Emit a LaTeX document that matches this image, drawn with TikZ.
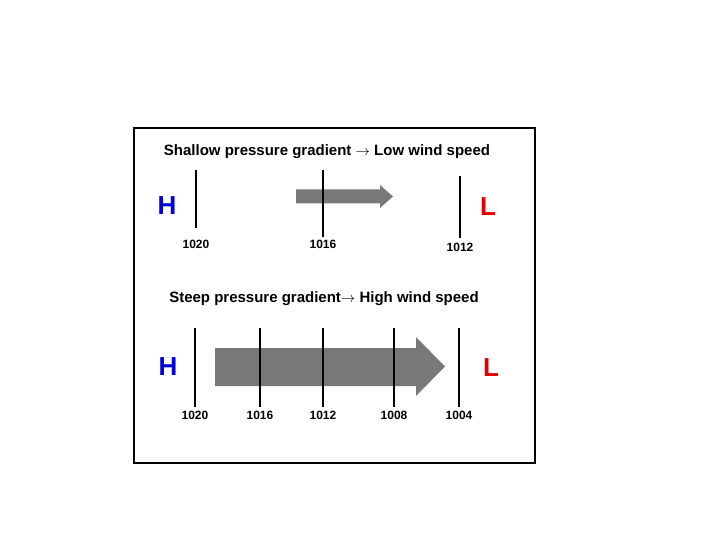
\documentclass[tikz,border=0pt]{standalone}
\usepackage{fontspec}
\setmainfont{Liberation Sans}
\begin{document}
\begin{tikzpicture}[x=1pt,y=-1pt,
  iso/.style={line width=1.6pt, black},
  lbl/.style={font=\fontsize{12}{13}\selectfont\bfseries, inner sep=0pt},
  ttl/.style={font=\fontsize{15}{17}\selectfont\bfseries, inner sep=0pt},
  hi/.style={font=\fontsize{26}{28}\selectfont\bfseries, text=blue!85!black, inner sep=0pt},
  lo/.style={font=\fontsize{26}{28}\selectfont\bfseries, text=red!90!black, inner sep=0pt},
  wind/.style={fill=gray!95!black, draw=none}]
\useasboundingbox (0,0) rectangle (720,540);
\fill[white] (0,0) rectangle (720,540);
\node[draw=black, line width=2pt, minimum width=401pt, minimum height=335pt, inner sep=0pt, anchor=north west] (frame) at (133,127) {};
% top panel
\node[ttl] (t1) at (327,152) {Shallow pressure gradient $\rightarrow$ Low wind speed};
\fill[wind] (296,189.5) -- (380,189.5) -- (380,185) -- (393,196.5) -- (380,208) -- (380,203.5) -- (296,203.5) -- cycle;
\coordinate (a1) at (196,170); \coordinate (b1) at (196,228);
\coordinate (a2) at (323,170); \coordinate (b2) at (323,237);
\coordinate (a3) at (460,176); \coordinate (b3) at (460,238);
\draw[iso] (a1) -- (b1);
\draw[iso] (a2) -- (b2);
\draw[iso] (a3) -- (b3);
\node[lbl] (p1) at (196,244) {1020};
\node[lbl] (p2) at (323,244) {1016};
\node[lbl] (p3) at (460,247) {1012};
\node[hi] (h1) at (167,206) {H};
\node[lo] (l1) at (488,207) {L};
% bottom panel
\node[ttl] (t2) at (324,299) {Steep pressure gradient$\rightarrow$ High wind speed};
\fill[wind] (215,348) -- (416,348) -- (416,337) -- (445,366.5) -- (416,396) -- (416,386) -- (215,386) -- cycle;
\foreach \x/\v in {195/1020,260/1016,323/1012,394/1008,459/1004}{
  \coordinate (u\v) at (\x,328); \coordinate (d\v) at (\x,407);
  \draw[iso] (u\v) -- (d\v);
  \node[lbl] (q\v) at (\x,415) {\v};
}
\node[hi] (h2) at (168,367) {H};
\node[lo] (l2) at (491,368) {L};
\end{tikzpicture}
\end{document}
